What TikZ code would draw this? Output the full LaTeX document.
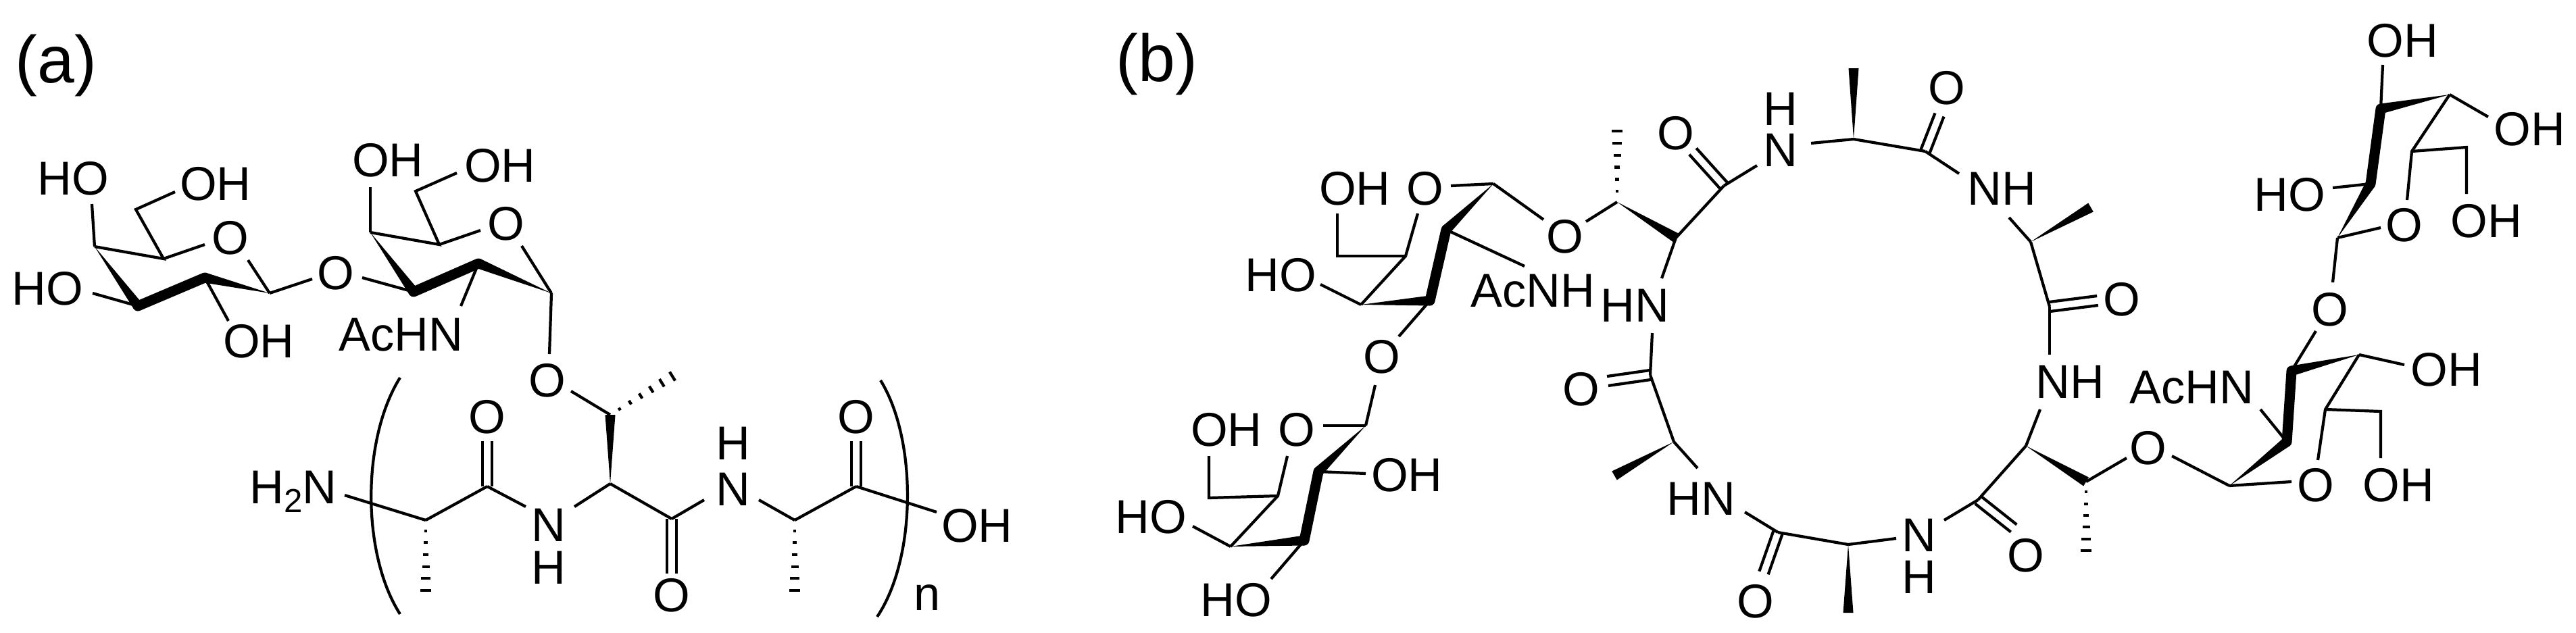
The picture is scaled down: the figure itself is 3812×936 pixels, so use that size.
\documentclass[tikz,border=0pt]{standalone}
\usepackage{fontspec}
\setmainfont{Liberation Sans}
\usetikzlibrary{calc}
\newcommand\wdg[2]{\fill (#1) -- ($(#2)!0.075cm!90:(#1)$) -- ($(#2)!0.075cm!-90:(#1)$) -- cycle;}
\newcommand\thk[2]{\draw[line width=0.15cm,line cap=round] (#1) -- (#2);}
\newcommand\hsh[2]{\foreach \t in {0.15,0.32,0.49,0.66,0.83,1.0}{\pgfmathsetlengthmacro\hw{(0.012+0.065*\t)*1cm}\path (#1) -- (#2) coordinate[pos=\t] (hh); \draw ($(hh)!\hw!90:(#1)$) -- ($(hh)!\hw!-90:(#1)$);}}
\newcommand\dbl[2]{\draw ($(#1)!0.07cm!90:(#2)$) -- ($(#2)!0.07cm!-90:(#1)$); \draw ($(#1)!0.07cm!-90:(#2)$) -- ($(#2)!0.07cm!90:(#1)$);}
\begin{document}
\begin{tikzpicture}[x=0.01cm,y=-0.01cm,line width=1.2pt,
  atom/.style={inner sep=0pt,font=\fontsize{20}{22}\selectfont},
  lbl/.style={inner sep=0pt,font=\fontsize{28}{30}\selectfont}]
\useasboundingbox (0,0) rectangle (3812,936);
% ===== panel a =====
\node[lbl] (la) at (83,97) {(a)};
\node[atom] (tHO1) at (108,264) {HO};
\node[atom] (tOH1) at (319,272) {OH};
\node[atom] (tO1) at (341,352) {O};
\node[atom] (tHO2) at (70,427) {HO};
\node[atom] (tOH2) at (383,505) {OH};
\node[atom] (tOL) at (497,404) {O};
\node[atom] (tOH3) at (574,237) {OH};
\node[atom] (tOH4) at (740,245) {OH};
\node[atom] (tO2) at (749,331) {O};
\node[atom] (tAc1) at (593,496) {AcHN};
\node[atom] (tO3) at (810,563) {O};
\coordinate (g4) at (140,365); \coordinate (g5) at (242,383); \coordinate (g6) at (201,310);
\coordinate (g1) at (399,434); \coordinate (g2) at (303,411); \coordinate (g3) at (204,453);
\draw (g4) -- (136,302); \draw (g4) -- (g5) -- (g6) -- (259,284);
\draw (g5) -- (303,362); \draw (367,385) -- (g1);
\wdg{g4}{g3} \thk{g3}{g2} \wdg{g1}{g2}
\draw (g2) -- (338,475); \draw (g3) -- (137,434); \draw (g1) -- (462,413);
\coordinate (n3) at (612,432); \coordinate (n4) at (548,344); \coordinate (n5) at (650,362);
\coordinate (n6) at (615,283); \coordinate (n1) at (816,434); \coordinate (n2) at (708,390);
\draw (536,411) -- (n3);
\wdg{n4}{n3} \thk{n3}{n2} \wdg{n1}{n2}
\draw (n4) -- (548,277); \draw (n4) -- (n5) -- (n6) -- (676,256);
\draw (n5) -- (711,341); \draw (772,364) -- (n1);
\draw (n2) -- (682,453); \draw (n1) -- (813,524);
% peptide
\coordinate (tb) at (903,614); \coordinate (ta) at (903,716);
\coordinate (a1) at (630,770); \coordinate (c1) at (721,720); \coordinate (c2) at (994,768);
\coordinate (a2) at (1176,770); \coordinate (c3) at (1267,720);
\node[atom] (tH2N) at (434,728) {H\raisebox{-0.35ex}{\fontsize{14}{14}\selectfont 2}N};
\node[atom] (tN1) at (812,777) {N};
\node[atom] (tH1) at (812,840) {H};
\node[atom] (tO4) at (994,881) {O};
\node[atom] (tN2) at (1085,724) {N};
\node[atom] (tH2) at (1085,656) {H};
\node[atom] (tO5) at (721,617) {O};
\node[atom] (tO6) at (1267,617) {O};
\node[atom] (tOH5) at (1446,778) {OH};
\node[atom] (tn) at (1372,885) {n};
\draw (845,579) -- (tb); \hsh{tb}{995,557} \wdg{ta}{tb}
\draw (510,733) -- (a1); \hsh{a1}{630,874}
\draw (a1) -- (c1); \dbl{c1}{721,653}
\draw (c1) -- (778,750); \draw (850,750) -- (ta);
\draw (ta) -- (c2); \dbl{c2}{994,849}
\draw (c2) -- (1042,740); \draw (1123,740) -- (a2);
\hsh{a2}{1176,874}
\draw (a2) -- (c3); \dbl{c3}{1267,653}
\draw (c3) -- (1386,758);
\draw (592,559) .. controls (535,650) and (535,820) .. (592,909);
\draw (1303,563) .. controls (1357,650) and (1357,825) .. (1298,913);
% ===== panel b =====
\node[lbl] (lb) at (1712,95) {(b)};
\node[atom] (bOH1) at (2005,279) {OH};
\node[atom] (bO1) at (2109,279) {O};
\node[atom] (bAc1) at (2268,431) {AcNH};
\node[atom] (bHO1) at (1895,407) {HO};
\node[atom] (bOL1) at (2045,528) {O};
\node[atom] (bOT1) at (2316,350) {O};
\coordinate (u1) at (2210,272); \coordinate (u2) at (2140,340); \coordinate (u3) at (2116,445);
\coordinate (u4) at (2014,451); \coordinate (u5) at (2080,379); \coordinate (u6) at (1979,379);
\coordinate (u6b) at (1979,316);
\draw (2147,275) -- (u1); \draw (u1) -- (2284,325);
\wdg{u1}{u2} \thk{u2}{u3} \wdg{u4}{u3}
\draw (u2) -- (2256,394); \draw (u4) -- (1954,421);
\draw (u4) -- (u5) -- (2098,316); \draw (u5) -- (u6) -- (u6b);
\draw (u3) -- (2070,498);
\node[atom] (bOH2) at (1815,636) {OH};
\node[atom] (bO2) at (1919,636) {O};
\node[atom] (bOH3) at (2082,703) {OH};
\node[atom] (bHO2) at (1703,765) {HO};
\node[atom] (bHO3) at (1829,888) {HO};
\coordinate (l1) at (2021,630); \coordinate (l2) at (1951,698); \coordinate (l3) at (1930,800);
\coordinate (l4) at (1821,809); \coordinate (l5) at (1891,734); \coordinate (l6) at (1789,737);
\coordinate (l6b) at (1789,675);
\draw (2035,570) -- (l1); \draw (1958,630) -- (l1);
\wdg{l1}{l2} \thk{l2}{l3} \wdg{l4}{l3}
\draw (l2) -- (2021,701); \draw (l4) -- (1765,779);
\draw (l4) -- (l5) -- (1905,675); \draw (l5) -- (l6) -- (l6b);
\draw (l3) -- (1881,857);
% macrocycle
\coordinate (btb) at (2393,299); \coordinate (bta) at (2480,352); \coordinate (k1) at (2551,275);
\coordinate (k2) at (2442,555); \coordinate (a3) at (2477,654); \coordinate (k3) at (2631,788);
\coordinate (a4) at (2735,806); \coordinate (m1) at (2743,206); \coordinate (k4) at (2849,224);
\coordinate (a5) at (3005,358); \coordinate (k5) at (3033,454); \coordinate (a6) at (2998,660);
\coordinate (tb2) at (3087,713); \coordinate (k6) at (2927,740);
\node[atom] (bO3) at (2480,197) {O};
\node[atom] (bN1) at (2635,222) {N};
\node[atom] (bH1) at (2635,161) {H};
\node[atom] (bHN1) at (2419,452) {HN};
\node[atom] (bO4) at (2340,576) {O};
\node[atom] (bHN2) at (2517,738) {HN};
\node[atom] (bO5) at (2598,890) {O};
\node[atom] (bO6) at (2881,130) {O};
\node[atom] (bNH1) at (2962,279) {NH};
\node[atom] (bO7) at (3140,443) {O};
\node[atom] (bNH2) at (3063,565) {NH};
\node[atom] (bOT2) at (3179,663) {O};
\node[atom] (bO8) at (2998,822) {O};
\node[atom] (bN2) at (2840,792) {N};
\node[atom] (bH2) at (2840,854) {H};
\draw (2347,328) -- (btb); \hsh{btb}{2393,194} \wdg{btb}{bta}
\draw (bta) -- (k1); \dbl{k1}{2505,224}
\draw (k1) -- (2600,245); \draw (2680,212) -- (m1);
\draw (bta) -- (2459,412);
\draw (2445,493) -- (k2); \dbl{k2}{2379,564}
\draw (k2) -- (a3); \wdg{a3}{2389,704} \draw (a3) -- (2512,693);
\draw (2582,758) -- (k3); \dbl{k3}{2610,848}
\draw (k3) -- (a4); \wdg{a4}{2735,907}
\wdg{m1}{2743,101}
\draw (m1) -- (k4); \dbl{k4}{2870,170}
\draw (k4) -- (2899,257); \draw (2973,322) -- (a5); \wdg{a5}{3094,307}
\draw (a5) -- (k5); \dbl{k5}{3104,445}
\draw (k5) -- (3033,525); \draw (3019,606) -- (a6);
\wdg{a6}{tb2} \hsh{tb2}{3087,815}
\draw (tb2) -- (3147,678);
\draw (a6) -- (k6); \dbl{k6}{2980,782}
\draw (k6) -- (2877,770); \draw (2806,797) -- (a4);
% right GalNAc
\node[atom] (bO9) at (3427,718) {O};
\node[atom] (bAc2) at (3243,574) {AcHN};
\node[atom] (bOL2) at (3448,458) {O};
\node[atom] (bOH4) at (3620,547) {OH};
\node[atom] (bOH5) at (3549,718) {OH};
\coordinate (r1) at (3299,719); \coordinate (r2) at (3384,654); \coordinate (r3) at (3391,549);
\coordinate (r4) at (3491,525); \coordinate (r5) at (3441,606); \coordinate (r6) at (3523,609);
\coordinate (r6b) at (3523,678);
\draw (3214,675) -- (r1); \draw (r1) -- (3391,713);
\wdg{r1}{r2} \thk{r2}{r3} \wdg{r4}{r3}
\draw (r2) -- (3345,606); \draw (r3) -- (3427,490); \draw (r4) -- (3558,540);
\draw (r4) -- (r5) -- (3430,681); \draw (r5) -- (r6) -- (r6b);
% upper right sugar
\node[atom] (bO10) at (3558,333) {O};
\node[atom] (bHO4) at (3388,288) {HO};
\node[atom] (bOH6) at (3555,60) {OH};
\node[atom] (bOH7) at (3743,191) {OH};
\node[atom] (bOH8) at (3679,327) {OH};
\coordinate (q1) at (3459,352); \coordinate (q2) at (3508,272); \coordinate (q3) at (3523,161);
\coordinate (q4) at (3625,140); \coordinate (q5) at (3569,224); \coordinate (q6) at (3650,218);
\coordinate (q6b) at (3650,287);
\draw (3452,418) -- (q1); \draw (q1) -- (3523,337);
\wdg{q1}{q2} \thk{q2}{q3} \wdg{q4}{q3}
\draw (q2) -- (3452,278); \draw (q3) -- (3526,96); \draw (q4) -- (3682,173);
\draw (q4) -- (q5) -- (3562,296); \draw (q5) -- (q6) -- (q6b);
\end{tikzpicture}
\end{document}
